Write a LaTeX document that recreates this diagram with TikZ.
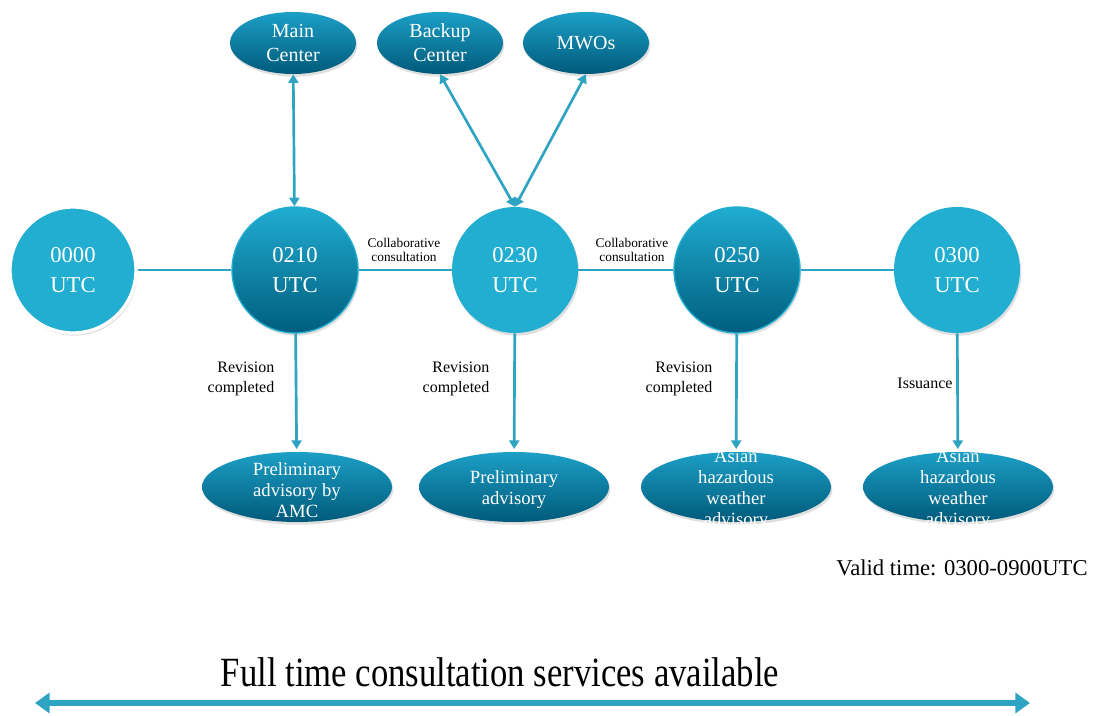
\documentclass[tikz,border=0pt]{standalone}
\usepackage{fontspec}
\setmainfont{Liberation Serif}
\usetikzlibrary{shapes.geometric}
\usetikzlibrary{arrows.meta}
\usetikzlibrary{shadows}

\definecolor{tealline}{HTML}{2FA3C2}
\definecolor{litedisc}{HTML}{22AED0}
\definecolor{darktop}{HTML}{20ACD1}
\definecolor{darkbot}{HTML}{005E7E}
\definecolor{ovaltop}{HTML}{1C9FC6}
\definecolor{ovalbot}{HTML}{005A7A}

\begin{document}
\begin{tikzpicture}[x=0.75pt,y=-0.75pt,
  >={Triangle[width=7.5pt,length=6.5pt]},
  shade/.style={drop shadow={opacity=0.25,shadow xshift=1pt,shadow yshift=-2pt}},
  disc/.style={circle,minimum size=94.5pt,inner sep=0pt,text=white,align=center,
    font=\fontsize{17}{22}\selectfont,shade},
  litedisc/.style={disc,fill=litedisc},
  darkdisc/.style={disc,top color=darktop,bottom color=darkbot,draw=litedisc,line width=1pt},
  oval/.style={ellipse,inner sep=0pt,top color=ovaltop,bottom color=ovalbot,shade},
  ovaltext/.style={text=white,align=center,inner sep=0pt},
  topoval/.style={oval,minimum width=94.5pt,minimum height=46.5pt,
    label={[ovaltext,font=\fontsize{15}{18}\selectfont]center:#1}},
  lowoval/.style={oval,minimum width=142.5pt,minimum height=52.5pt,
    label={[ovaltext,yshift=-2pt,font=\fontsize{14}{15.75}\selectfont]center:#1}},
  link/.style={draw=tealline,line width=2pt},
  down/.style={link,->,shorten >=2pt},
  note/.style={align=right,font=\fontsize{12}{15}\selectfont},
  collab/.style={align=center,font=\fontsize{10}{11}\selectfont},
  bigarrow/.style={draw=tealline,line width=4.5pt,
    {Triangle[width=15pt,length=11pt]}-{Triangle[width=15pt,length=11pt]}}]
  \useasboundingbox (0,0) rectangle (1100,716);

  % time line
  \node[litedisc,draw=white,line width=2.5pt] (c0000) at (73,270) {0000\\UTC};
  \node[darkdisc] (c0210) at (295,270) {0210\\UTC};
  \node[litedisc] (c0230) at (515,270) {0230\\UTC};
  \node[darkdisc] (c0250) at (737,270) {0250\\UTC};
  \node[litedisc] (c0300) at (957,270) {0300\\UTC};

  % centers
  \node[topoval={Main\\Center}] (main) at (293,43) {};
  \node[topoval={Backup\\Center}] (backup) at (440,43) {};
  \node[topoval={MWOs}] (mwos) at (586,43) {};

  % products
  \node[lowoval={Preliminary\\advisory by\\AMC}] (amc) at (297,487) {};
  \node[lowoval={Preliminary\\advisory}] (prelim) at (514,487) {};
  \node[lowoval={Asian\\hazardous\\weather\\advisory}] (asian1) at (736,487) {};
  \node[lowoval={Asian\\hazardous\\weather\\advisory}] (asian2) at (958,487) {};

  \draw[link] (c0000)--(c0210);
  \draw[link] (c0210)--(c0230);
  \draw[link] (c0230)--(c0250);
  \draw[link] (c0250)--(c0300);
  \draw[link,<->] (main)--(c0210);
  \draw[link,<->] (backup.south)--(c0230.north);
  \draw[link,<->] (mwos.south)--(c0230.north);
  \draw[down] (c0210)--(amc);
  \draw[down] (c0230)--(prelim);
  \draw[down] (c0250)--(asian1);
  \draw[down] (c0300)--(asian2);

  \node[collab] (col1) at (404,250) {Collaborative\\consultation};
  \node[collab] (col2) at (632,250) {Collaborative\\consultation};
  \node[note] (rev1) at (241,379) {Revision\\completed};
  \node[note] (rev2) at (456,379) {Revision\\completed};
  \node[note] (rev3) at (679,379) {Revision\\completed};
  \node[note] (issue) at (925,383) {Issuance};

  \node[font=\fontsize{17}{20}\selectfont] (valid) at (962,568) {Valid time: 0300-0900UTC};

  % consultation span
  \node (full) at (500,672) {\fontsize{26}{30}\selectfont\scalebox{1}[1.2]{Full time consultation services available}};
  \coordinate (fl) at (35,703);
  \coordinate (fr) at (1030,703);
  \draw[bigarrow] (fl)--(fr);
\end{tikzpicture}
\end{document}
